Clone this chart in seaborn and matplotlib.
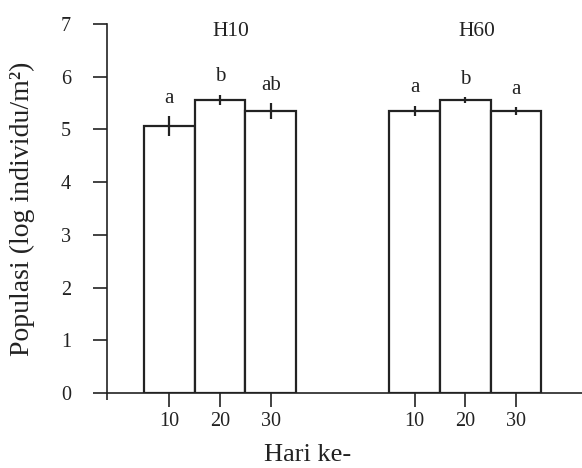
import seaborn as sns
import matplotlib.pyplot as plt
import pandas as pd
import numpy as np

sns.set_style("ticks")
plt.rcParams['font.family'] = ['Liberation Serif', 'DejaVu Serif']

# data
groups = ["H10", "H10", "H10", "H60", "H60", "H60"]
days = ["10", "20", "30", "10", "20", "30"]
population = [5.06, 5.56, 5.35, 5.35, 5.56, 5.35]
sem = [0.19, 0.10, 0.15, 0.10, 0.06, 0.08]
letters = ["a", "b", "ab", "a", "b", "a"]

# three touching bars per group, gap between the groups
pos = np.r_[np.arange(3), np.arange(3) + 4.84]
df = pd.DataFrame({"pos": pos, "pop": population, "group": groups})

fig = plt.figure(figsize=(5.82, 4.68), dpi=100)
ax = fig.add_axes([0.1838, 0.1603, 0.8162, 0.7885])

sns.barplot(data=df, x="pos", y="pop", native_scale=True, orient="x",
            width=1.0, color="white", saturation=1, edgecolor="#222222",
            linewidth=1.6, errorbar=None, ax=ax)
ax.errorbar(pos, population, yerr=sem, fmt="none", ecolor="#222222",
            elinewidth=1.6, capsize=0)

for p, v, e, l in zip(pos, population, sem, letters):
    ax.annotate(l, (p, v + e), xytext=(0, 9.5), textcoords="offset points",
                ha="center", va="baseline", fontsize=15, color="#222222")

for g in ["H10", "H60"]:
    gx = df.loc[df.group == g, "pos"].mean() + 0.22
    ax.text(gx, 6.86, g, ha="center", va="center", fontsize=15.5, color="#222222")

ax.set_xlim(-1.23, 8.14)
ax.set_ylim(0, 7)
ax.set_xticks(pos, days)
ax.set_xticks([-1.23], minor=True)
ax.set_yticks(range(8))
ax.tick_params(axis="both", which="major", length=10, width=1.2,
               labelsize=14.5, colors="#222222")
ax.tick_params(axis="y", pad=16)
ax.tick_params(axis="x", pad=4)
ax.tick_params(axis="x", which="minor", length=5, width=1.2, color="#222222")

sns.despine(ax=ax)
for s in ["left", "bottom"]:
    ax.spines[s].set_linewidth(1.2)
    ax.spines[s].set_color("#222222")

ax.set_ylabel("Populasi (log individu/m²)", fontsize=20, va="center", color="#222222")
ax.yaxis.set_label_coords(-0.179, 0.5)
ax.set_xlabel("Hari ke-", fontsize=19, va="center", color="#222222")
ax.xaxis.set_label_coords(0.423, -0.169)

fig.savefig("out.png", dpi=100)
plt.close()
